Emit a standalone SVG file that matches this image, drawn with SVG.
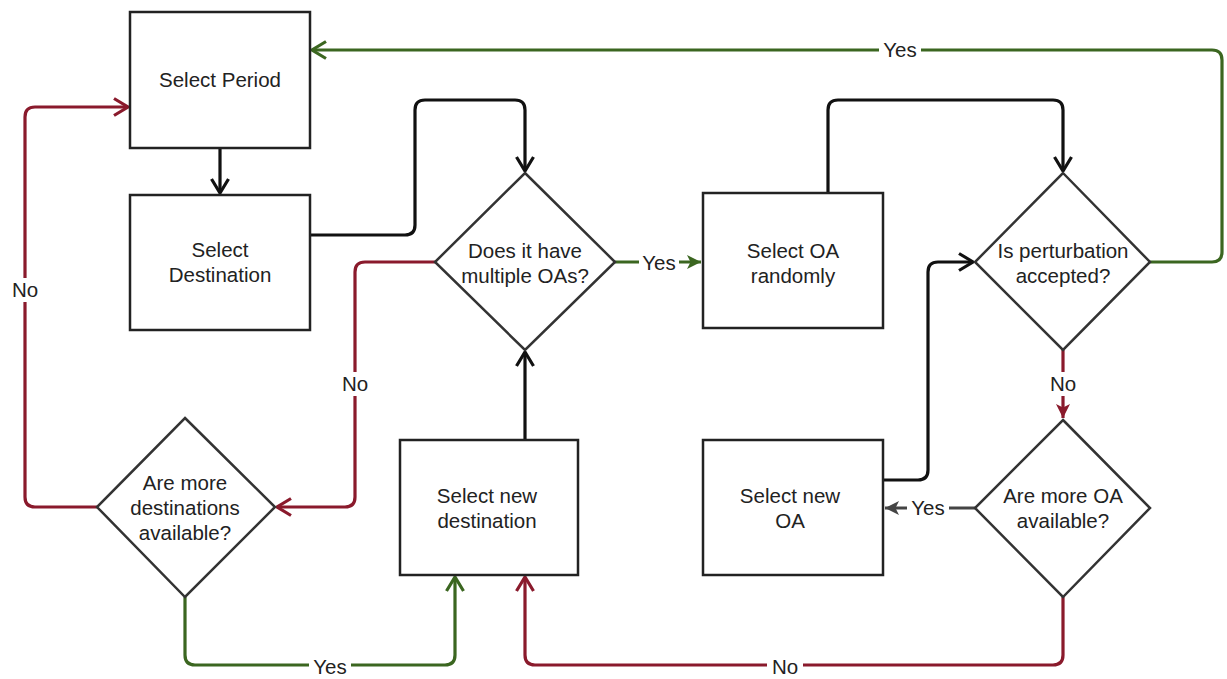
<svg xmlns="http://www.w3.org/2000/svg" width="1227" height="679" viewBox="0 0 1227 679">
<style>
.box{fill:#fff;stroke:#222;stroke-width:2.5}
.dia{fill:#fff;stroke:#333;stroke-width:2.5}
.t{font-family:"Liberation Sans",Arial,sans-serif;font-size:20.5px;fill:#222;text-anchor:middle}
.lbl{font-family:"Liberation Sans",Arial,sans-serif;font-size:20.5px;fill:#222;text-anchor:middle}
.c{fill:none;stroke-width:3.2;stroke-linejoin:round}
.k{stroke:#111}.g{stroke:#3b6620}.r{stroke:#8a1a2c}.gy{stroke:#444}
.bg{fill:#fff}
</style>
<defs>
<marker id="ok" viewBox="0 0 16 20" markerWidth="16" markerHeight="20" refX="15" refY="10" orient="auto" markerUnits="userSpaceOnUse"><path d="M1,1.5 L15,10 L1,18.5" fill="none" stroke="#111" stroke-width="3.2"/></marker>
<marker id="og" viewBox="0 0 16 20" markerWidth="16" markerHeight="20" refX="15" refY="10" orient="auto" markerUnits="userSpaceOnUse"><path d="M1,1.5 L15,10 L1,18.5" fill="none" stroke="#3b6620" stroke-width="3.2"/></marker>
<marker id="or" viewBox="0 0 16 20" markerWidth="16" markerHeight="20" refX="15" refY="10" orient="auto" markerUnits="userSpaceOnUse"><path d="M1,1.5 L15,10 L1,18.5" fill="none" stroke="#8a1a2c" stroke-width="3.2"/></marker>
<marker id="fg" viewBox="0 0 14 14" markerWidth="14" markerHeight="14" refX="14" refY="7" orient="auto" markerUnits="userSpaceOnUse"><path d="M0,0 L14,7 L0,14 L3.5,7 z" fill="#3b6620"/></marker>
<marker id="fr" viewBox="0 0 14 14" markerWidth="14" markerHeight="14" refX="14" refY="7" orient="auto" markerUnits="userSpaceOnUse"><path d="M0,0 L14,7 L0,14 L3.5,7 z" fill="#8a1a2c"/></marker>
<marker id="fy" viewBox="0 0 14 14" markerWidth="14" markerHeight="14" refX="14" refY="7" orient="auto" markerUnits="userSpaceOnUse"><path d="M0,0 L14,7 L0,14 L3.5,7 z" fill="#444"/></marker>
</defs>
<rect width="1227" height="679" fill="#fff"/>
<g id="connectors">
<path class="c k" d="M220,148 V193" marker-end="url(#ok)"/>
<path class="c k" d="M310,235 H405 Q415,235 415,225 V110 Q415,100 425,100 H515 Q525,100 525,110 V171" marker-end="url(#ok)"/>
<path class="c g" d="M615,262 H701" marker-end="url(#fg)"/>
<path class="c k" d="M828,193 V110 Q828,100 838,100 H1053 Q1063,100 1063,110 V171" marker-end="url(#ok)"/>
<path class="c g" d="M1150,262 H1212 Q1222,262 1222,252 V60 Q1222,50 1212,50 H312" marker-end="url(#og)"/>
<path class="c r" d="M1063,350 V418" marker-end="url(#fr)"/>
<path class="c gy" d="M975,508 H885" marker-end="url(#fy)"/>
<path class="c k" d="M883,480 H918 Q928,480 928,470 V272 Q928,262 938,262 H973" marker-end="url(#ok)"/>
<path class="c r" d="M1063,597 V655 Q1063,665 1053,665 H535 Q525,665 525,655 V577" marker-end="url(#or)"/>
<path class="c k" d="M525,440 V352" marker-end="url(#ok)"/>
<path class="c r" d="M435,262 H365 Q355,262 355,272 V497 Q355,507 345,507 H277" marker-end="url(#or)"/>
<path class="c r" d="M97,507 H35 Q25,507 25,497 V117 Q25,107 35,107 H128" marker-end="url(#or)"/>
<path class="c g" d="M185,597 V655 Q185,665 195,665 H445 Q455,665 455,655 V577" marker-end="url(#og)"/>
<rect class="bg" x="639" y="250" width="40" height="24"/><text class="lbl" x="659" y="270">Yes</text>
<rect class="bg" x="879" y="38" width="42" height="24"/><text class="lbl" x="900" y="57">Yes</text>
<rect class="bg" x="1047" y="372" width="32" height="24"/><text class="lbl" x="1063" y="391">No</text>
<rect class="bg" x="907" y="496" width="42" height="24"/><text class="lbl" x="928" y="515">Yes</text>
<rect class="bg" x="767" y="655" width="36" height="24"/><text class="lbl" x="785" y="674">No</text>
<rect class="bg" x="339" y="372" width="32" height="24"/><text class="lbl" x="355" y="391">No</text>
<rect class="bg" x="9" y="278" width="32" height="24"/><text class="lbl" x="25" y="297">No</text>
<rect class="bg" x="309" y="655" width="42" height="24"/><text class="lbl" x="330" y="674">Yes</text>
</g>
<g id="select-period"><rect class="box" x="130" y="12" width="180" height="136"/><text class="t" x="220" y="87">Select Period</text></g>
<g id="select-destination"><rect class="box" x="130" y="195" width="180" height="135"/><text class="t" x="220" y="257">Select</text><text class="t" x="220" y="282">Destination</text></g>
<g id="multiple-oas"><polygon class="dia" points="525,173 615,262 525,350 435,262"/><text class="t" x="525" y="258">Does it have</text><text class="t" x="525" y="283">multiple OAs?</text></g>
<g id="select-oa-randomly"><rect class="box" x="703" y="193" width="180" height="135"/><text class="t" x="793" y="258">Select OA</text><text class="t" x="793" y="283">randomly</text></g>
<g id="perturbation-accepted"><polygon class="dia" points="1063,173 1150,262 1063,350 975,262"/><text class="t" x="1063" y="258">Is perturbation</text><text class="t" x="1063" y="283">accepted?</text></g>
<g id="more-oa"><polygon class="dia" points="1063,420 1150,508 1063,597 975,508"/><text class="t" x="1063" y="503">Are more OA</text><text class="t" x="1063" y="528">available?</text></g>
<g id="select-new-oa"><rect class="box" x="703" y="440" width="180" height="135"/><text class="t" x="790" y="503">Select new</text><text class="t" x="790" y="528">OA</text></g>
<g id="select-new-destination"><rect class="box" x="400" y="440" width="178" height="135"/><text class="t" x="487" y="503">Select new</text><text class="t" x="487" y="528">destination</text></g>
<g id="more-destinations"><polygon class="dia" points="185,418 275,507 185,597 97,507"/><text class="t" x="185" y="490">Are more</text><text class="t" x="185" y="515">destinations</text><text class="t" x="185" y="540">available?</text></g>
</svg>
